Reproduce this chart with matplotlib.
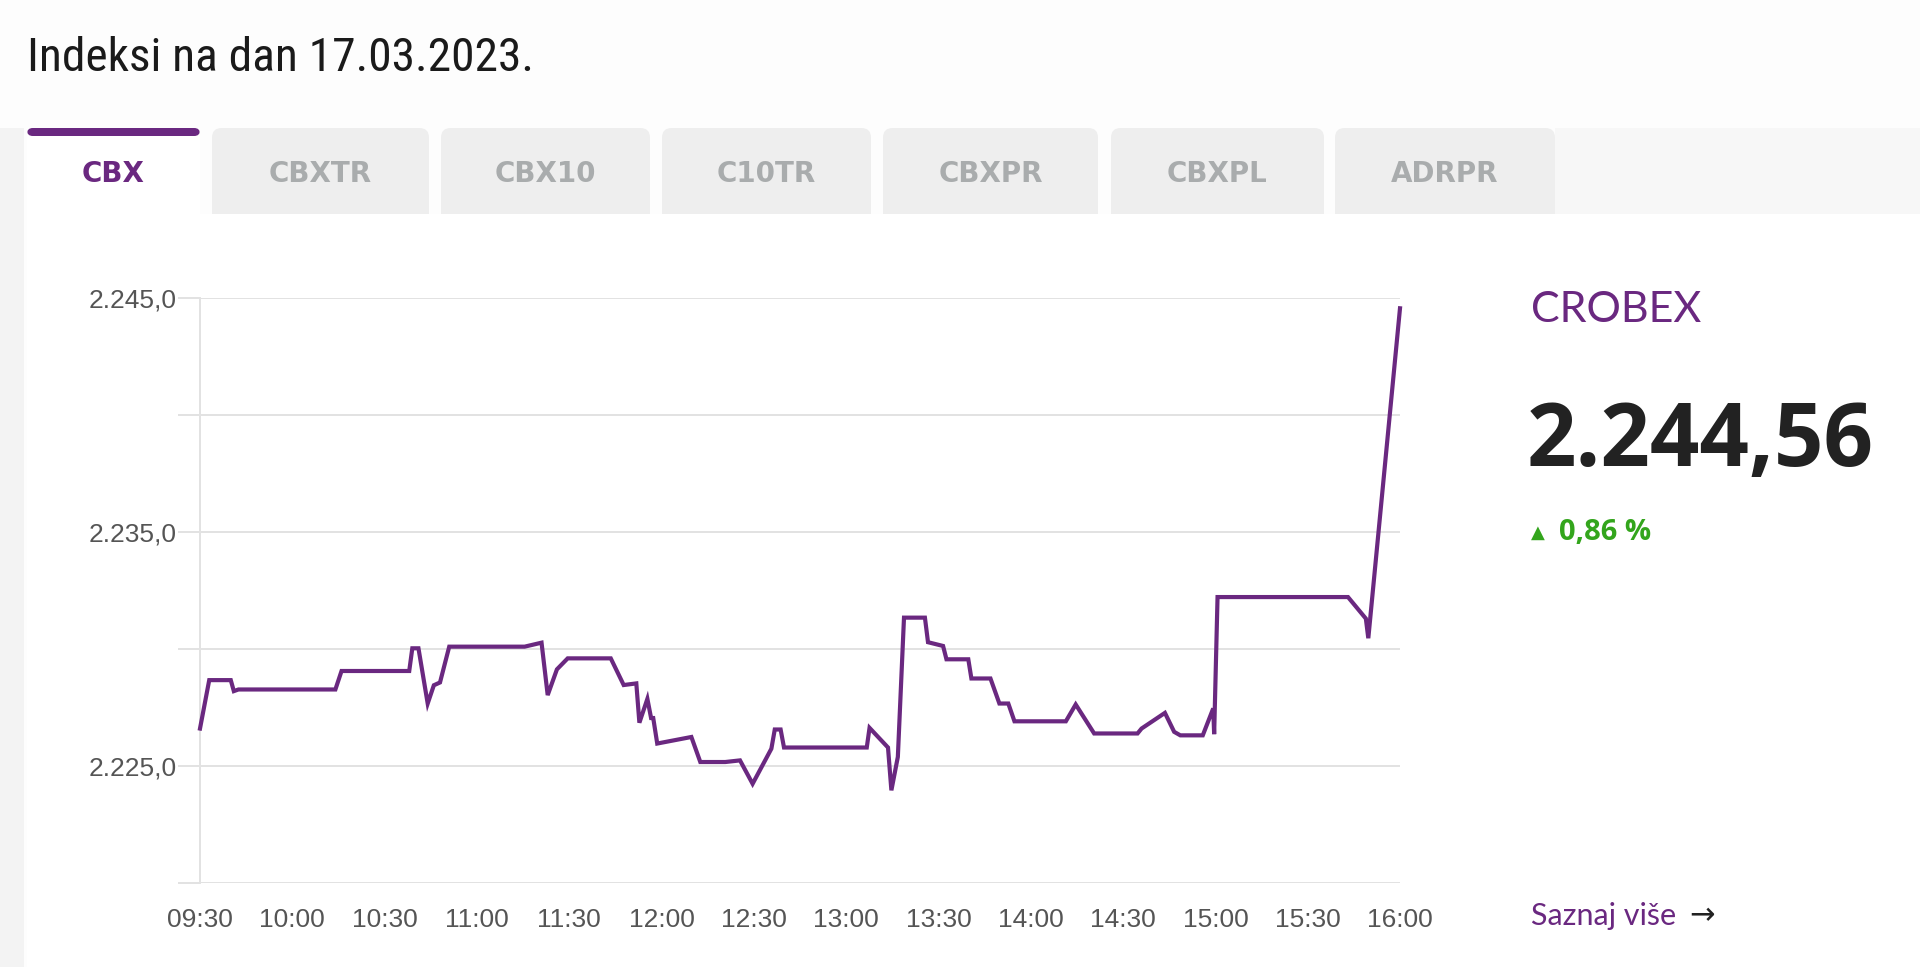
import matplotlib
matplotlib.use("Agg")
import matplotlib.pyplot as plt
from matplotlib import font_manager
from matplotlib.patches import Rectangle, FancyBboxPatch

# CROBEX intraday, 17.03.2023 - minutes after 09:30 and index level
minutes = [0, 3, 10, 11, 12.5, 44, 46, 68, 69, 71, 74, 76, 78, 81, 105.5, 111, 113, 116,
           119.5, 133.5, 137.7, 141.8, 142.8, 145.4, 146.6, 147.3, 148.6, 159.7, 162.6,
           170.7, 175.5, 179.6, 185.7, 186.8, 188.7, 189.8, 216.7, 217.6, 223.6, 224.7,
           226.8, 228.8, 235.6, 236.6, 241.5, 242.6, 249.7, 250.7, 256.9, 259.8, 262.7,
           264.7, 281.4, 284.6, 290.6, 304.7, 306.0, 313.6, 316.6, 318.6, 325.9, 329.3,
           329.6, 330.7, 373.1, 378.9, 379.7, 390]
values = [2226.6, 2228.67, 2228.67, 2228.2, 2228.27, 2228.27, 2229.06, 2229.06, 2230.03,
          2230.03, 2227.67, 2228.45, 2228.57, 2230.1, 2230.1, 2230.27, 2228.03, 2229.13,
          2229.6, 2229.6, 2228.46, 2228.53, 2226.85, 2227.87, 2227.05, 2227.05, 2225.96,
          2226.24, 2225.17, 2225.17, 2225.24, 2224.24, 2225.74, 2226.56, 2226.56, 2225.79,
          2225.79, 2226.63, 2225.79, 2223.96, 2225.39, 2231.34, 2231.34, 2230.29, 2230.13,
          2229.56, 2229.56, 2228.74, 2228.74, 2227.67, 2227.67, 2226.91, 2226.91, 2227.63,
          2226.39, 2226.39, 2226.6, 2227.27, 2226.46, 2226.31, 2226.31, 2227.46, 2226.36,
          2232.22, 2232.22, 2231.3, 2230.46, 2244.56]

time_ticks = [0, 30, 60, 90, 120, 150, 180, 210, 240, 270, 300, 330, 360, 390]
time_labels = ["09:30", "10:00", "10:30", "11:00", "11:30", "12:00", "12:30",
               "13:00", "13:30", "14:00", "14:30", "15:00", "15:30", "16:00"]
level_ticks = [2220, 2225, 2230, 2235, 2240, 2245]
level_labels = ["", "2.225,0", "", "2.235,0", "", "2.245,0"]

tabs = ["CBX", "CBXTR", "CBX10", "C10TR", "CBXPR", "CBXPL", "ADRPR"]
tab_edges = [(27, 200), (212, 429), (441, 650), (662, 871), (883, 1098), (1111, 1324), (1335, 1555)]

title = "Indeksi na dan 17.03.2023."
index_name = "CROBEX"
last_value = "2.244,56"
change = "0,86 %"

W, H = 1920, 967
PURPLE = "#6a2880"


def fx(x):
    return x / W


def fy(y):
    return 1 - y / H


# narrow face for the title if one is installed
installed = {f.name for f in font_manager.fontManager.ttflist}
narrow = [n for n in ["Ubuntu Condensed", "Liberation Sans Narrow", "Roboto Condensed",
                      "Open Sans Condensed", "Noto Sans Condensed"] if n in installed]
title_family = narrow[:1] + ["Roboto", "DejaVu Sans"]

fig = plt.figure(figsize=(19.2, 9.67), dpi=100)
fig.patch.set_facecolor("#fdfdfd")

# page background pieces
fig.add_artist(Rectangle((0, 0), fx(24), fy(128), transform=fig.transFigure,
                         facecolor="#f3f3f3", edgecolor="none", zorder=0))
fig.add_artist(Rectangle((fx(1555), fy(214)), 1 - fx(1555), fy(128) - fy(214),
                         transform=fig.transFigure, facecolor="#f7f7f7", edgecolor="none", zorder=0))

# tabs
for i, (name, (x0, x1)) in enumerate(zip(tabs, tab_edges)):
    active = i == 0
    fig.add_artist(FancyBboxPatch((fx(x0), fy(240)), fx(x1) - fx(x0), fy(128) - fy(240),
                                  boxstyle="round,pad=0,rounding_size=0.005",
                                  transform=fig.transFigure, mutation_aspect=W / H,
                                  facecolor="white" if active else "#eeeeee",
                                  edgecolor="none", zorder=1))
    fig.text(fx((x0 + x1) / 2), fy(174), name, ha="center", va="center",
             fontsize=20, fontweight="bold", family="DejaVu Sans",
             color=PURPLE if active else "#a9acad", zorder=3)
fig.add_artist(FancyBboxPatch((fx(27), fy(136)), fx(200) - fx(27), fy(128) - fy(136),
                              boxstyle="round,pad=0,rounding_size=0.003",
                              transform=fig.transFigure, mutation_aspect=W / H,
                              facecolor=PURPLE, edgecolor="none", zorder=3))

# white card
fig.add_artist(Rectangle((fx(27), 0), 1 - fx(27), fy(214), transform=fig.transFigure,
                         facecolor="white", edgecolor="none", zorder=2))

# title, sized so it spans the same width as the original
ttl = fig.text(fx(27), fy(71), title, ha="left", va="baseline",
               fontsize=36.5, family=title_family, color="#1a1a1a")
renderer = fig.canvas.get_renderer()
width = ttl.get_window_extent(renderer).width
ttl.set_fontsize(36.5 * min(1.0, 508 / width))

# chart
ax = fig.add_axes([fx(200), fy(883), fx(1400) - fx(200), fy(298) - fy(883)])
ax.set_zorder(5)
ax.patch.set_alpha(0)
ax.plot(minutes, values, color=PURPLE, linewidth=3.0, solid_joinstyle="miter", zorder=4,
        clip_on=False)
ax.set_xlim(0, 390)
ax.set_ylim(2220, 2245)
ax.set_xticks(time_ticks)
ax.set_xticklabels(time_labels)
ax.set_yticks(level_ticks)
ax.set_yticklabels(level_labels)
ax.grid(axis="y", color="#e2e2e2", linewidth=1.4)
for s in ["top", "right", "bottom"]:
    ax.spines[s].set_visible(False)
ax.spines["left"].set_color("#e2e2e2")
ax.spines["left"].set_linewidth(1.4)
ax.tick_params(axis="y", length=16, width=1.4, color="#e2e2e2", pad=1,
               labelsize=19, labelcolor="#555555")
ax.tick_params(axis="x", length=0, pad=18, labelsize=19, labelcolor="#555555")
for lbl in ax.get_xticklabels() + ax.get_yticklabels():
    lbl.set_family(["Liberation Sans", "DejaVu Sans"])

# right side panel
fig.text(fx(1531), fy(310), index_name, ha="left", va="center", fontsize=31,
         family=["Lato", "DejaVu Sans"], color=PURPLE)
fig.text(fx(1527), fy(443), last_value, ha="left", va="center", fontsize=62.5,
         family=["Open Sans", "DejaVu Sans"], fontweight="bold", color="#222222")
fig.text(fx(1531), fy(533), "\u25b2", ha="left", va="center", fontsize=13,
         family="DejaVu Sans", color="#33a51c")
fig.text(fx(1559), fy(533), change, ha="left", va="center", fontsize=21,
         family=["Open Sans", "DejaVu Sans"], fontweight="bold", color="#33a51c")
fig.text(fx(1531), fy(916), "Saznaj više", ha="left", va="center", fontsize=22,
         family=["Lato", "DejaVu Sans"], color=PURPLE)
fig.text(fx(1689), fy(916), "\u2192", ha="left", va="center", fontsize=22,
         family="DejaVu Sans", color="#222222")

fig.savefig("out.png", dpi=100, facecolor=fig.get_facecolor())
